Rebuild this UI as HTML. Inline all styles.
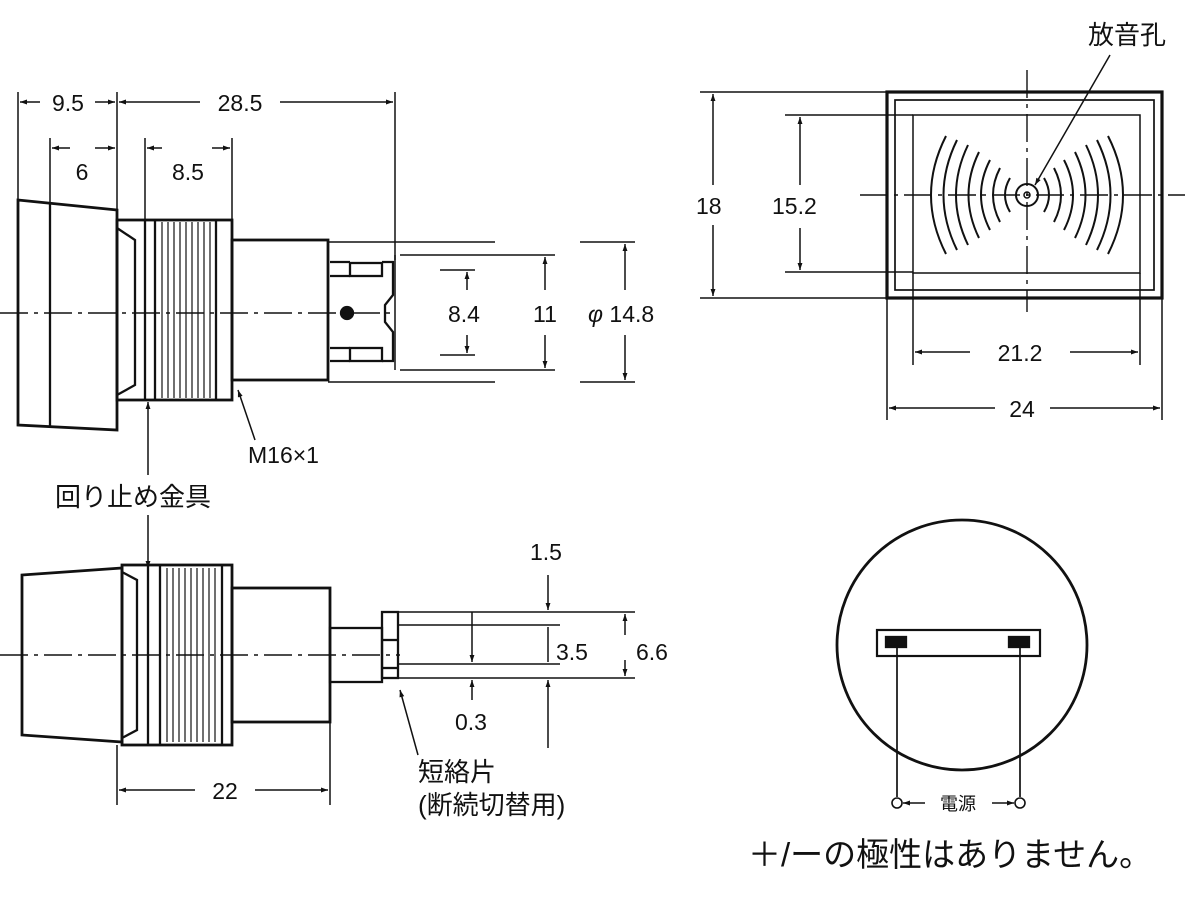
<!DOCTYPE html>
<html><head><meta charset="utf-8"><style>
html,body{margin:0;padding:0;background:#fff}
svg{display:block}
text{font-family:"Liberation Sans","Noto Sans CJK JP",sans-serif;fill:#111}
</style></head><body>
<svg width="1200" height="900" viewBox="0 0 1200 900" xmlns="http://www.w3.org/2000/svg">
<defs>
<marker id="a" viewBox="0 0 10 10" refX="10" refY="5" markerWidth="10" markerHeight="7" orient="auto-start-reverse" markerUnits="userSpaceOnUse"><path d="M0,1.5 L10,5 L0,8.5z" fill="#111"/></marker>
</defs>
<g stroke="#111" fill="none" stroke-width="2.3">
<line x1="18" y1="92" x2="18" y2="200" stroke-width="1.5"/>
<line x1="117" y1="92" x2="117" y2="212" stroke-width="1.5"/>
<line x1="395" y1="92" x2="395" y2="260" stroke-width="1.5"/>
<line x1="50" y1="138" x2="50" y2="202" stroke-width="1.5"/>
<line x1="145" y1="138" x2="145" y2="220" stroke-width="1.5"/>
<line x1="232" y1="138" x2="232" y2="240" stroke-width="1.5"/>
<line x1="20" y1="102" x2="40" y2="102" stroke-width="1.5" marker-start="url(#a)"/>
<line x1="95" y1="102" x2="115" y2="102" stroke-width="1.5" marker-end="url(#a)"/>
<line x1="119" y1="102" x2="200" y2="102" stroke-width="1.5" marker-start="url(#a)"/>
<line x1="280" y1="102" x2="393" y2="102" stroke-width="1.5" marker-end="url(#a)"/>
<line x1="52" y1="148" x2="70" y2="148" stroke-width="1.5" marker-start="url(#a)"/>
<line x1="95" y1="148" x2="115" y2="148" stroke-width="1.5" marker-end="url(#a)"/>
<line x1="147" y1="148" x2="162" y2="148" stroke-width="1.5" marker-start="url(#a)"/>
<line x1="212" y1="148" x2="230" y2="148" stroke-width="1.5" marker-end="url(#a)"/>
<path d="M18,200 L117,210 L117,430 L18,425 Z" stroke-width="2.8"/>
<line x1="50" y1="203" x2="50" y2="427"/>
<rect x="117" y="220" width="115" height="180" stroke-width="2.8"/>
<path d="M117,228 L135,240 L135,385 L117,395" />
<line x1="145" y1="220" x2="145" y2="400"/>
<line x1="155" y1="220" x2="155" y2="400"/>
<g stroke-width="1.2">
<line x1="162" y1="222" x2="162" y2="398"/><line x1="168" y1="222" x2="168" y2="398"/><line x1="174" y1="222" x2="174" y2="398"/><line x1="180" y1="222" x2="180" y2="398"/><line x1="186" y1="222" x2="186" y2="398"/><line x1="192" y1="222" x2="192" y2="398"/><line x1="198" y1="222" x2="198" y2="398"/><line x1="204" y1="222" x2="204" y2="398"/><line x1="210" y1="222" x2="210" y2="398"/>
</g>
<line x1="216" y1="220" x2="216" y2="400"/>
<rect x="232" y="240" width="96" height="140" stroke-width="2.8"/>
<line x1="328" y1="242" x2="495" y2="242" stroke-width="1.5"/>
<line x1="328" y1="382" x2="495" y2="382" stroke-width="1.5"/>
<line x1="400" y1="255" x2="555" y2="255" stroke-width="1.5"/>
<line x1="400" y1="370" x2="555" y2="370" stroke-width="1.5"/>
<line x1="440" y1="270" x2="475" y2="270" stroke-width="1.5"/>
<line x1="440" y1="355" x2="475" y2="355" stroke-width="1.5"/>
<rect x="350" y="263" width="32" height="13"/>
<rect x="350" y="348" width="32" height="13"/>
<path d="M330,262 L350,262 M330,276 L350,276 M330,348 L350,348 M330,361 L350,361"/>
<path d="M382,262 L393,262 L393,295 L385,305 L385,322 L393,332 L393,361 L382,361"/>
<line x1="395" y1="255" x2="395" y2="370" stroke-width="1.5"/>
<circle cx="347" cy="313" r="6" fill="#111"/>
<line x1="0" y1="313" x2="395" y2="313" stroke-width="1.4" stroke-dasharray="28,6,4,6"/>
<line x1="467" y1="272" x2="467" y2="290" stroke-width="1.5" marker-start="url(#a)"/>
<line x1="467" y1="335" x2="467" y2="353" stroke-width="1.5" marker-end="url(#a)"/>
<line x1="545" y1="257" x2="545" y2="290" stroke-width="1.5" marker-start="url(#a)"/>
<line x1="545" y1="335" x2="545" y2="368" stroke-width="1.5" marker-end="url(#a)"/>
<line x1="625" y1="244" x2="625" y2="290" stroke-width="1.5" marker-start="url(#a)"/>
<line x1="625" y1="335" x2="625" y2="380" stroke-width="1.5" marker-end="url(#a)"/>
<line x1="580" y1="242" x2="635" y2="242" stroke-width="1.5"/>
<line x1="580" y1="382" x2="635" y2="382" stroke-width="1.5"/>
<line x1="255" y1="440" x2="238" y2="390" stroke-width="1.5" marker-end="url(#a)"/>
<line x1="148" y1="475" x2="148" y2="402" stroke-width="1.5" marker-end="url(#a)"/>
<line x1="148" y1="515" x2="148" y2="568" stroke-width="1.5" marker-end="url(#a)"/>

<rect x="887" y="92" width="275" height="206" stroke-width="3.2"/>
<rect x="895" y="100" width="259" height="190" stroke-width="1.7"/>
<rect x="913" y="115" width="227" height="158" stroke-width="1.5"/>
<line x1="860" y1="195" x2="1185" y2="195" stroke-width="1.4" stroke-dasharray="28,6,4,6"/>
<line x1="1027" y1="70" x2="1027" y2="312" stroke-width="1.4" stroke-dasharray="28,6,4,6"/>
<circle cx="1027" cy="195" r="11" stroke-width="2"/>
<circle cx="1027" cy="195" r="3" stroke-width="1.5"/>
<g stroke-width="2">
<path d="M1010,178 Q1000,195 1010,212"/><path d="M1000,168 Q986,195 1000,222"/><path d="M990,160 Q972,195 990,230"/><path d="M979,152 Q958,195 979,238"/><path d="M968,145 Q944,195 968,245"/><path d="M957,140 Q930,195 957,250"/><path d="M946,136 Q916,195 946,254"/>
<path d="M1044,178 Q1054,195 1044,212"/><path d="M1054,168 Q1068,195 1054,222"/><path d="M1064,160 Q1082,195 1064,230"/><path d="M1075,152 Q1096,195 1075,238"/><path d="M1086,145 Q1110,195 1086,245"/><path d="M1097,140 Q1124,195 1097,250"/><path d="M1108,136 Q1138,195 1108,254"/>
</g>
<line x1="1110" y1="55" x2="1035" y2="185" stroke-width="1.5" marker-end="url(#a)"/>
<line x1="700" y1="92" x2="887" y2="92" stroke-width="1.5"/>
<line x1="700" y1="298" x2="887" y2="298" stroke-width="1.5"/>
<line x1="785" y1="115" x2="913" y2="115" stroke-width="1.5"/>
<line x1="785" y1="272" x2="913" y2="272" stroke-width="1.5"/>
<line x1="713" y1="94" x2="713" y2="185" stroke-width="1.5" marker-start="url(#a)"/>
<line x1="713" y1="225" x2="713" y2="296" stroke-width="1.5" marker-end="url(#a)"/>
<line x1="800" y1="117" x2="800" y2="185" stroke-width="1.5" marker-start="url(#a)"/>
<line x1="800" y1="228" x2="800" y2="270" stroke-width="1.5" marker-end="url(#a)"/>
<line x1="913" y1="273" x2="913" y2="365" stroke-width="1.5"/>
<line x1="1140" y1="273" x2="1140" y2="365" stroke-width="1.5"/>
<line x1="887" y1="298" x2="887" y2="420" stroke-width="1.5"/>
<line x1="1162" y1="298" x2="1162" y2="420" stroke-width="1.5"/>
<line x1="915" y1="352" x2="970" y2="352" stroke-width="1.5" marker-start="url(#a)"/>
<line x1="1070" y1="352" x2="1138" y2="352" stroke-width="1.5" marker-end="url(#a)"/>
<line x1="889" y1="408" x2="995" y2="408" stroke-width="1.5" marker-start="url(#a)"/>
<line x1="1050" y1="408" x2="1160" y2="408" stroke-width="1.5" marker-end="url(#a)"/>

<path d="M22,575 L122,568 L122,742 L22,735 Z" stroke-width="2.8"/>
<rect x="122" y="565" width="110" height="180" stroke-width="2.8"/>
<path d="M122,572 L137,580 L137,730 L122,738"/>
<line x1="148" y1="565" x2="148" y2="745"/>
<line x1="160" y1="565" x2="160" y2="745"/>
<g stroke-width="1.2">
<line x1="167" y1="568" x2="167" y2="742"/><line x1="173" y1="568" x2="173" y2="742"/><line x1="179" y1="568" x2="179" y2="742"/><line x1="185" y1="568" x2="185" y2="742"/><line x1="191" y1="568" x2="191" y2="742"/><line x1="197" y1="568" x2="197" y2="742"/><line x1="203" y1="568" x2="203" y2="742"/><line x1="209" y1="568" x2="209" y2="742"/><line x1="215" y1="568" x2="215" y2="742"/>
</g>
<line x1="222" y1="565" x2="222" y2="745"/>
<rect x="232" y="588" width="98" height="134" stroke-width="2.8"/>
<rect x="330" y="628" width="52" height="54"/>
<rect x="382" y="612" width="16" height="66"/>
<line x1="382" y1="640" x2="398" y2="640"/>
<line x1="382" y1="668" x2="398" y2="668"/>
<line x1="0" y1="655" x2="400" y2="655" stroke-width="1.4" stroke-dasharray="28,6,4,6"/>
<line x1="398" y1="612" x2="635" y2="612" stroke-width="1.5"/>
<line x1="398" y1="678" x2="635" y2="678" stroke-width="1.5"/>
<line x1="398" y1="625" x2="560" y2="625" stroke-width="1.5"/>
<line x1="398" y1="664" x2="560" y2="664" stroke-width="1.5"/>
<line x1="548" y1="575" x2="548" y2="610" stroke-width="1.5" marker-end="url(#a)"/>
<line x1="548" y1="627" x2="548" y2="662" stroke-width="1.5"/>
<line x1="548" y1="680" x2="548" y2="748" stroke-width="1.5" marker-start="url(#a)"/>
<line x1="472" y1="612" x2="472" y2="662" stroke-width="1.5" marker-end="url(#a)"/>
<line x1="472" y1="700" x2="472" y2="680" stroke-width="1.5" marker-end="url(#a)"/>
<line x1="625" y1="614" x2="625" y2="635" stroke-width="1.5" marker-start="url(#a)"/>
<line x1="625" y1="660" x2="625" y2="676" stroke-width="1.5" marker-end="url(#a)"/>
<line x1="418" y1="755" x2="400" y2="690" stroke-width="1.5" marker-end="url(#a)"/>
<line x1="117" y1="745" x2="117" y2="805" stroke-width="1.5"/>
<line x1="330" y1="722" x2="330" y2="805" stroke-width="1.5"/>
<line x1="119" y1="790" x2="195" y2="790" stroke-width="1.5" marker-start="url(#a)"/>
<line x1="255" y1="790" x2="328" y2="790" stroke-width="1.5" marker-end="url(#a)"/>

<circle cx="962" cy="645" r="125" stroke-width="2.8"/>
<rect x="877" y="630" width="163" height="26" stroke-width="2.2"/>
<rect x="886" y="637" width="20" height="10" fill="#111"/>
<rect x="1009" y="637" width="20" height="10" fill="#111"/>
<line x1="897" y1="647" x2="897" y2="797" stroke-width="1.7"/>
<line x1="1020" y1="647" x2="1020" y2="797" stroke-width="1.7"/>
<circle cx="897" cy="803" r="5" stroke-width="1.6"/>
<circle cx="1020" cy="803" r="5" stroke-width="1.6"/>
<line x1="903" y1="803" x2="925" y2="803" stroke-width="1.5" marker-start="url(#a)"/>
<line x1="992" y1="803" x2="1014" y2="803" stroke-width="1.5" marker-end="url(#a)"/>
</g>
<g font-size="23">
<text x="68" y="111" text-anchor="middle">9.5</text>
<text x="240" y="111" text-anchor="middle">28.5</text>
<text x="82" y="180" text-anchor="middle">6</text>
<text x="188" y="180" text-anchor="middle">8.5</text>
<text x="448" y="322">8.4</text>
<text x="533" y="322">11</text>
<text x="588" y="322"><tspan font-style="italic">φ</tspan> 14.8</text>
<text x="248" y="463">M16×1</text>
<text x="696" y="214">18</text>
<text x="772" y="214">15.2</text>
<text x="1020" y="361" text-anchor="middle">21.2</text>
<text x="1022" y="417" text-anchor="middle">24</text>
<text x="530" y="560">1.5</text>
<text x="556" y="660">3.5</text>
<text x="636" y="660">6.6</text>
<text x="455" y="730">0.3</text>
<text x="225" y="799" text-anchor="middle">22</text>
</g>
<g font-size="26">
<text x="55" y="506">回り止め金具</text>
<text x="1088" y="44">放音孔</text>
<text x="418" y="781">短絡片</text>
<text x="418" y="814">(断続切替用)</text>
</g>
<text x="958" y="810" font-size="18" text-anchor="middle">電源</text>
<text x="748" y="866" font-size="33">＋/ーの極性はありません。</text>
</svg>
</body></html>
